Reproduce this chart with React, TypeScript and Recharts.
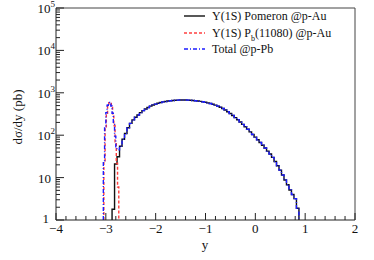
import { LineChart, Line, XAxis, YAxis } from "recharts";

const W = 374;
const H = 260;
const FONT = "'Liberation Serif', 'DejaVu Serif', serif";

// Υ(1S) Pomeron @p-Au : bins of 0.05 from -2.875
const POM_START = -2.875;
const POM_WIDTH = 0.05;
const POM_END = 0.875;
const pomeronVals = [
  1.8, 21, 31, 55, 80, 110, 150, 190, 230, 265, 300, 340, 380, 415, 450, 485,
  515, 540, 565, 590, 610, 625, 640, 650, 660, 668, 673, 676, 677, 676, 673,
  668, 660, 650, 640, 628, 614, 598, 580, 560, 538, 512, 485, 455, 425, 392,
  358, 325, 292, 260, 232, 205, 180, 158, 138, 120, 104, 90, 78, 67, 58, 50,
  42, 36, 30, 24, 19, 15, 11.5, 8.8, 6.8, 5.1, 4.0, 3.2, 1.9,
];

// Υ(1S) Pb(11080) @p-Au : bins of 0.025 from -3.04
const pbX = [-3.04, -3.015, -2.99, -2.965, -2.94, -2.915, -2.89, -2.865, -2.84, -2.815, -2.79, -2.765];
const pbVals = [25, 150, 330, 500, 585, 580, 480, 320, 170, 70, 22, 6];
const PB_END = -2.74;

// Total @p-Pb : low-y peak region, then it sits on the pomeron curve
const totalLowX = [-3.05, -3.025, -3.0, -2.975, -2.95, -2.925, -2.9, -2.875, -2.85, -2.825, -2.8, -2.775];
const totalLowVals = [24, 160, 340, 510, 590, 585, 490, 330, 180, 95, 50, 45];

const xMajor = [-4, -3, -2, -1, 0, 1, 2];
const xTicks = [
  -4, -3.8, -3.6, -3.4, -3.2, -3, -2.8, -2.6, -2.4, -2.2, -2, -1.8, -1.6, -1.4,
  -1.2, -1, -0.8, -0.6, -0.4, -0.2, 0, 0.2, 0.4, 0.6, 0.8, 1, 1.2, 1.4, 1.6,
  1.8, 2,
];
const yDecades = [1, 10, 100, 1000, 10000];
const yTicks = [...yDecades.flatMap((d) => [1, 2, 3, 4, 5, 6, 7, 8, 9].map((k) => d * k)), 100000];

function steps(xs: number[], vs: number[], end: number) {
  const pts = [{ x: xs[0], v: 1 }];
  xs.forEach((x, i) => pts.push({ x, v: vs[i] }));
  pts.push({ x: end, v: 1 });
  return pts;
}

const pomX = pomeronVals.map((_, i) => POM_START + i * POM_WIDTH);
const pomeronData = steps(pomX, pomeronVals, POM_END);
const pbData = steps(pbX, pbVals, PB_END);
const totalData = steps(
  [...totalLowX, ...pomX.slice(3)],
  [...totalLowVals, ...pomeronVals.slice(3)],
  POM_END
);

function XTick({ x, y, payload }: any) {
  const v = payload.value;
  const major = xMajor.some((m) => Math.abs(m - v) < 1e-6);
  const label = v < 0 ? `\u2212${Math.abs(Math.round(v))}` : `${Math.round(v)}`;
  return (
    <g>
      <line x1={x} x2={x} y1={y} y2={y - (major ? 7 : 4)} stroke="#222" />
      {major && (
        <text x={x} y={y + 13} textAnchor="middle" fontSize={13} fontFamily={FONT} fill="#111">
          {label}
        </text>
      )}
    </g>
  );
}

function YTick({ x, y, payload }: any) {
  const v = payload.value;
  const e = Math.log10(v);
  const exp = Math.round(e);
  const major = Math.abs(e - exp) < 1e-9;
  let label = null;
  if (major) {
    if (exp === 0) {
      label = (
        <text x={x - 7} y={y + 3} textAnchor="end" fontSize={13} fontFamily={FONT} fill="#111">1</text>
      );
    } else if (exp === 1) {
      label = (
        <text x={x - 5} y={y + 5} textAnchor="end" fontSize={13} fontFamily={FONT} fill="#111">10</text>
      );
    } else {
      label = (
        <text x={x - 1} y={y + 5} textAnchor="end" fontSize={13} fontFamily={FONT} fill="#111">
          10<tspan dy={-6} fontSize={9}>{exp}</tspan>
        </text>
      );
    }
  }
  return (
    <g>
      <line x1={x} x2={x + (major ? 8 : 4)} y1={y} y2={y} stroke="#222" />
      {label}
    </g>
  );
}

const legendRows = [
  { color: "#111", dash: undefined, y: 16 },
  { color: "#ff4040", dash: "3 2", y: 33 },
  { color: "#1c1cff", dash: "4 2 1 2", y: 49 },
];

export default function App() {
  return (
    <div style={{ position: "absolute", left: 0, top: 0, width: W, height: H, background: "#fff" }}>
      <LineChart width={W} height={H} margin={{ top: 7, right: 18, bottom: 39, left: 55 }}>
        <XAxis
          dataKey="x"
          type="number"
          domain={[-4, 2]}
          ticks={xTicks}
          interval={0}
          height={1}
          tickSize={0}
          tickMargin={0}
          tick={XTick}
          axisLine={{ stroke: "#222" }}
          allowDataOverflow
        />
        <XAxis
          xAxisId="top"
          orientation="top"
          type="number"
          domain={[-4, 2]}
          height={1}
          tick={false}
          tickLine={false}
          axisLine={{ stroke: "#444" }}
        />
        <YAxis
          dataKey="v"
          scale="log"
          type="number"
          domain={[1, 100000]}
          ticks={yTicks}
          interval={0}
          width={1}
          tickSize={0}
          tickMargin={0}
          tick={YTick}
          axisLine={{ stroke: "#222" }}
          allowDataOverflow
        />
        <YAxis
          yAxisId="right"
          orientation="right"
          type="number"
          domain={[0, 1]}
          width={1}
          tick={false}
          tickLine={false}
          axisLine={{ stroke: "#444" }}
        />
        <Line
          data={pomeronData}
          dataKey="v"
          type="stepAfter"
          stroke="#111"
          strokeWidth={1.4}
          dot={false}
          isAnimationActive={false}
        />
        <Line
          data={pbData}
          dataKey="v"
          type="stepAfter"
          stroke="#ff3b3b"
          strokeWidth={1.4}
          strokeDasharray="3 2"
          dot={false}
          isAnimationActive={false}
        />
        <Line
          data={totalData}
          dataKey="v"
          type="stepAfter"
          stroke="#1c1cff"
          strokeWidth={1.4}
          strokeDasharray="4 2 1 2"
          dot={false}
          isAnimationActive={false}
        />
      </LineChart>
      <svg
        width={W}
        height={H}
        style={{ position: "absolute", left: 0, top: 0, pointerEvents: "none" }}
      >
        <text
          transform="translate(22,117) rotate(-90)"
          textAnchor="middle"
          fontSize={13}
          fontFamily={FONT}
          fill="#111"
        >
          dσ/dy (pb)
        </text>
        <text x={205} y={249} textAnchor="middle" fontSize={13} fontFamily={FONT} fill="#111">
          y
        </text>
        {legendRows.map((r, i) => (
          <line
            key={i}
            x1={184}
            x2={205}
            y1={r.y}
            y2={r.y}
            stroke={r.color}
            strokeWidth={1.4}
            strokeDasharray={r.dash}
          />
        ))}
        <text x={212} y={20} fontSize={12} fontFamily={FONT} fill="#111">
          Υ(1S) Pomeron @p-Au
        </text>
        <text x={212} y={37} fontSize={12} fontFamily={FONT} fill="#111">
          Υ(1S) P<tspan dy={4} fontSize={8}>b</tspan>
          <tspan dy={-4}>(11080) @p-Au</tspan>
        </text>
        <text x={212} y={53} fontSize={12} fontFamily={FONT} fill="#111">
          Total @p-Pb
        </text>
      </svg>
    </div>
  );
}
